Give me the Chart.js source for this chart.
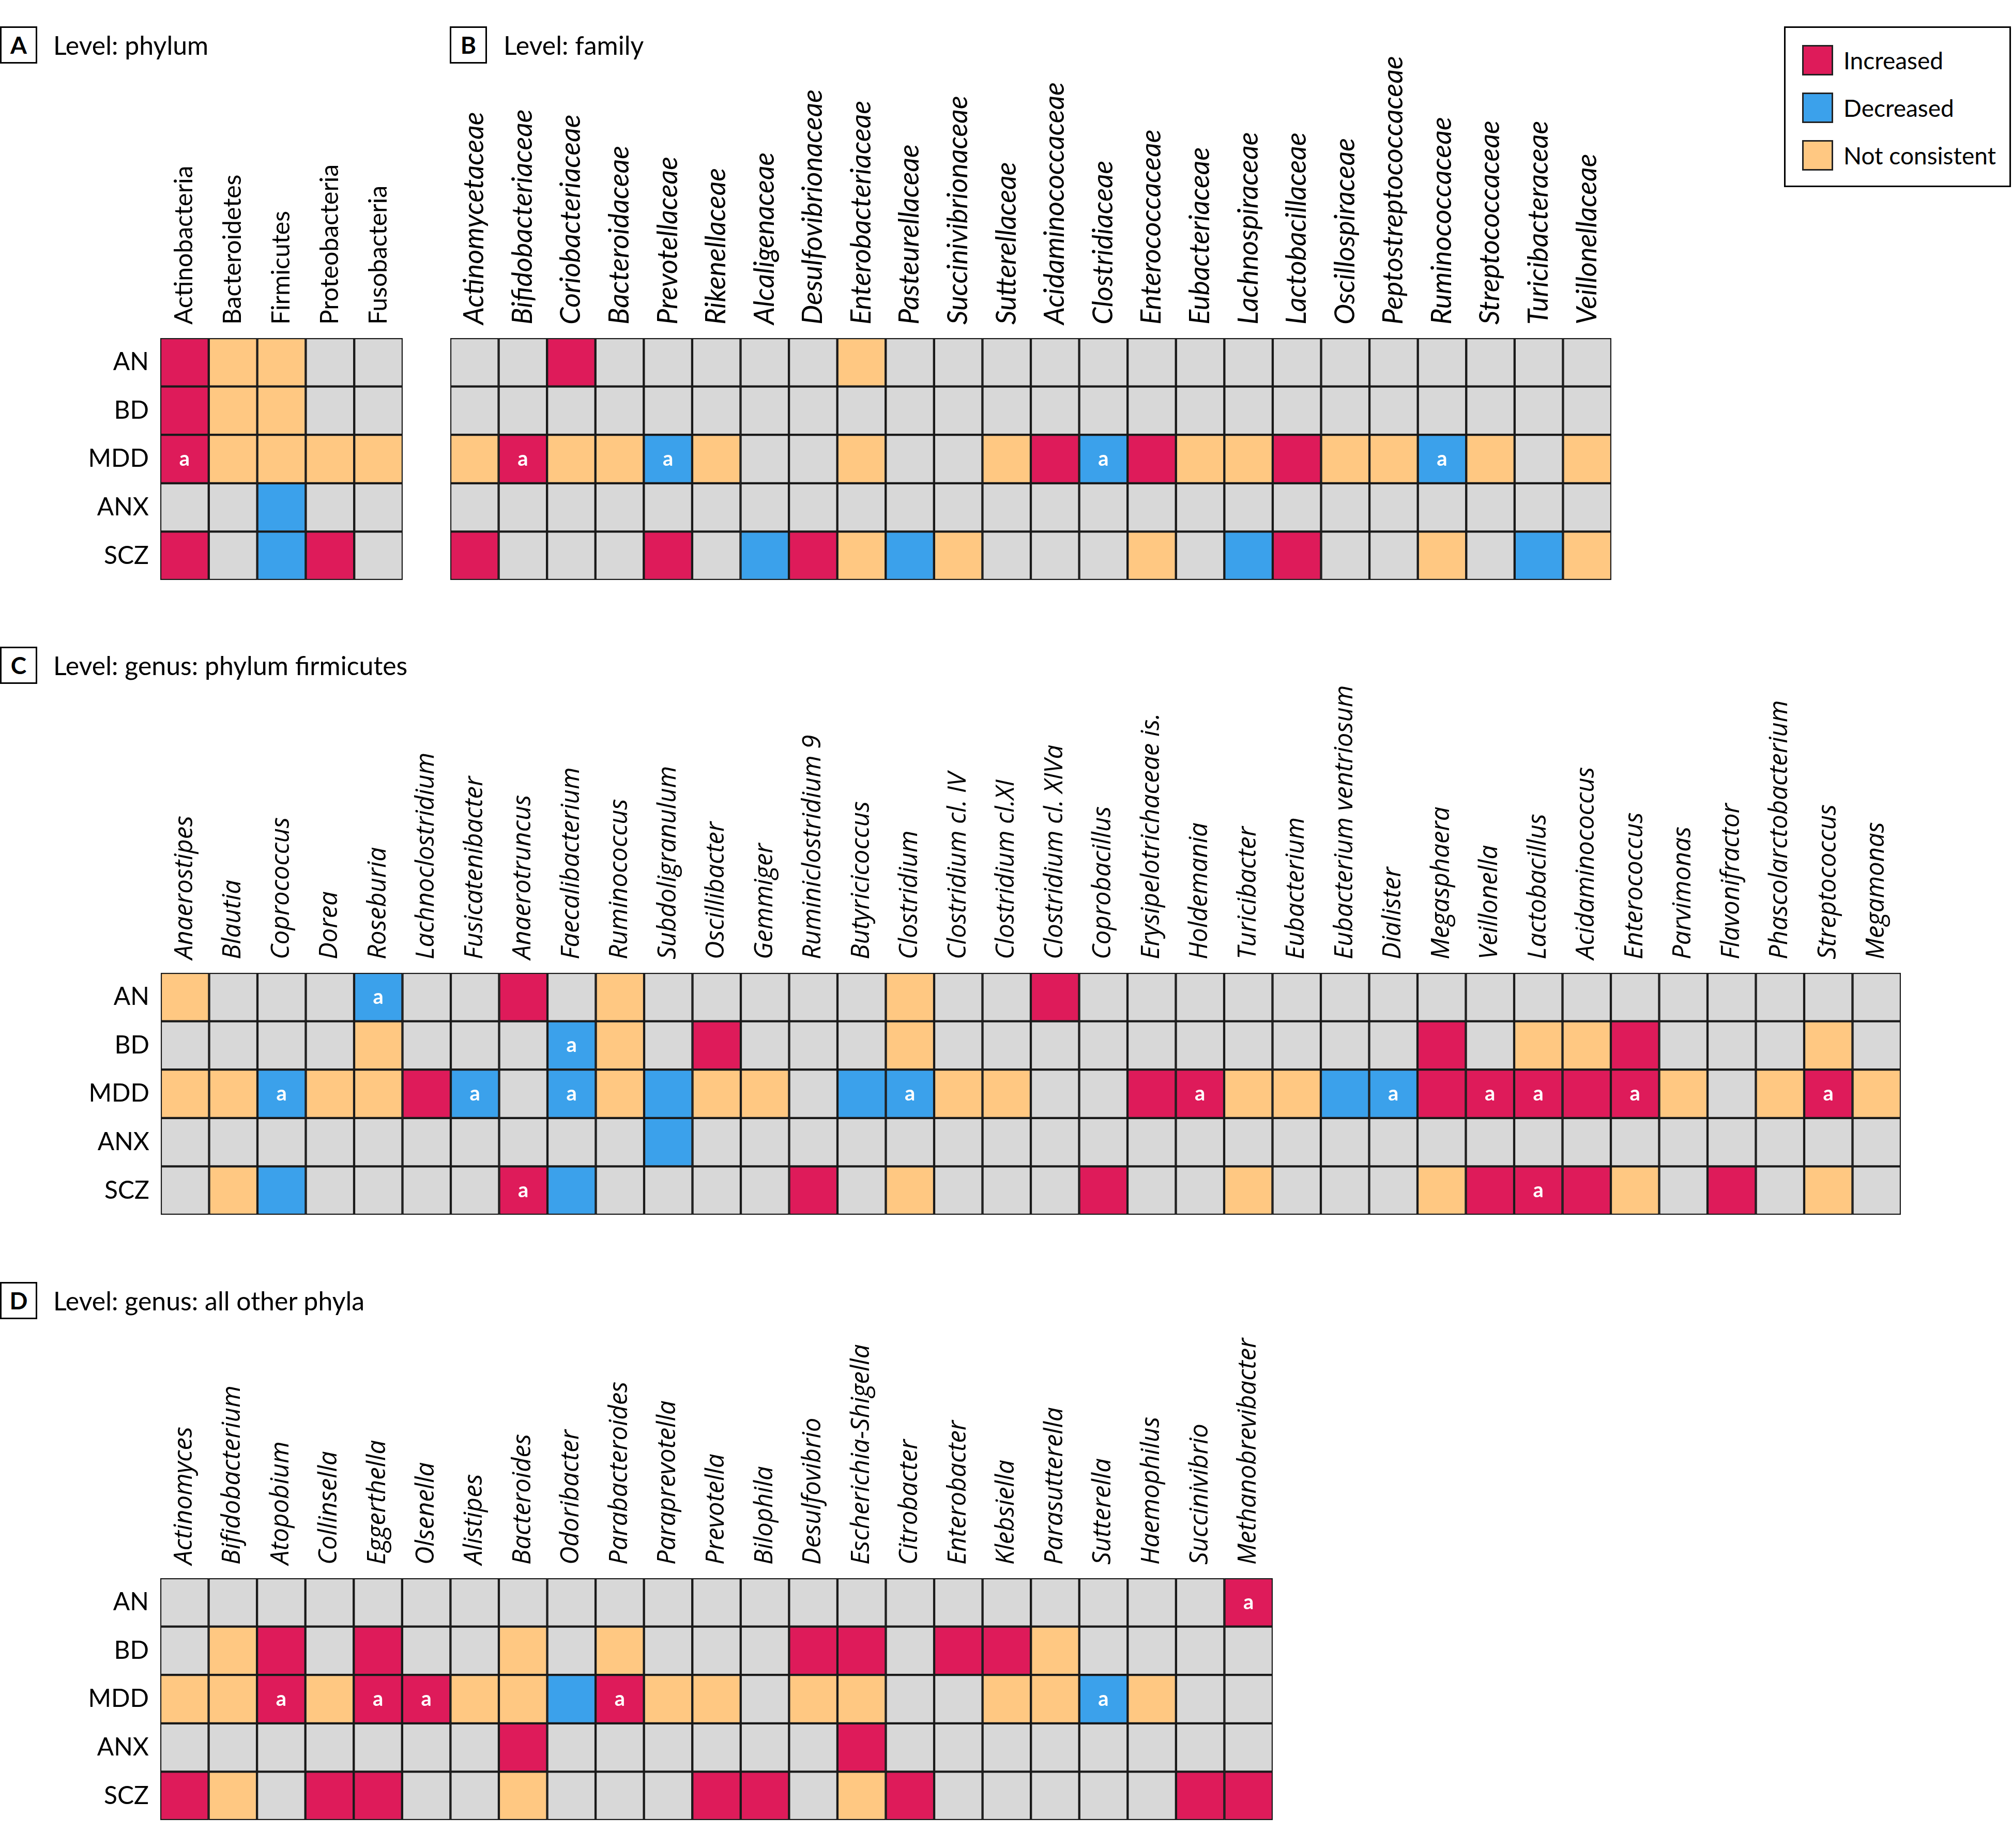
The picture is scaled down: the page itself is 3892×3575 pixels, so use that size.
<!DOCTYPE html>
<html>
<head>
<meta charset="utf-8">
<script src="https://cdn.jsdelivr.net/npm/chart.js@4.4.1/dist/chart.umd.min.js"></script>
<style>
  body { margin: 0; background: #fff; width: 3892px; height: 3575px; position: relative; font-family: Lato, sans-serif; color: #000; }
  canvas { position: absolute; }
  .tag { position: absolute; left: 0; width: 66px; height: 66px; border: 3px solid #000; font: bold 46px Lato, sans-serif; text-align: center; line-height: 66px; }
  .head { position: absolute; font: 50px Lato, sans-serif; line-height: 72px; white-space: nowrap; }
  #legend { position: absolute; left: 3451px; top: 51px; width: 433px; height: 305px; border: 3px solid #000; }
  .sw { position: absolute; left: 32px; width: 54px; height: 53px; border: 3px solid #222; }
  .lt { position: absolute; left: 112px; font: 46px Lato, sans-serif; line-height: 59px; white-space: nowrap; }
</style>
</head>
<body>
<div class="tag" style="top:51px">A</div>
<div class="head" style="left:103px;top:51px">Level: phylum</div>
<div class="tag" style="left:870px;top:51px">B</div>
<div class="head" style="left:974px;top:51px">Level: family</div>
<div class="tag" style="top:1251px">C</div>
<div class="head" style="left:103px;top:1251px">Level: genus: phylum firmicutes</div>
<div class="tag" style="top:2480px">D</div>
<div class="head" style="left:103px;top:2480px">Level: genus: all other phyla</div>

<div id="legend">
  <div class="sw" style="top:33px;background:#de1b5a"></div><div class="lt" style="top:33px">Increased</div>
  <div class="sw" style="top:125px;background:#3ba1eb"></div><div class="lt" style="top:125px">Decreased</div>
  <div class="sw" style="top:217px;background:#ffc882"></div><div class="lt" style="top:217px">Not consistent</div>
</div>

<canvas id="chartA" width="779" height="1022" style="left:0px;top:100px"></canvas>
<canvas id="chartB" width="2246" height="1032" style="left:871px;top:90px"></canvas>
<canvas id="chartC" width="3677" height="1070" style="left:0px;top:1280px"></canvas>
<canvas id="chartD" width="2462" height="966" style="left:0px;top:2555px"></canvas>

<script>
// rows of every panel
const rowLabels = ["AN", "BD", "MDD", "ANX", "SCZ"];

// I = increased, D = decreased, N = not consistent, - = no data; trailing "a" = footnote a
const phylumLabels = ["Actinobacteria", "Bacteroidetes", "Firmicutes", "Proteobacteria", "Fusobacteria"];
const phylumStatus = [
  ["I", "N", "N", "-", "-"],
  ["I", "N", "N", "-", "-"],
  ["Ia", "N", "N", "N", "N"],
  ["-", "-", "D", "-", "-"],
  ["I", "-", "D", "I", "-"]
];

const familyLabels = ["Actinomycetaceae", "Bifidobacteriaceae", "Coriobacteriaceae", "Bacteroidaceae",
  "Prevotellaceae", "Rikenellaceae", "Alcaligenaceae", "Desulfovibrionaceae", "Enterobacteriaceae",
  "Pasteurellaceae", "Succinivibrionaceae", "Sutterellaceae", "Acidaminococcaceae", "Clostridiaceae",
  "Enterococcaceae", "Eubacteriaceae", "Lachnospiraceae", "Lactobacillaceae", "Oscillospiraceae",
  "Peptostreptococcaceae", "Ruminococcaceae", "Streptococcaceae", "Turicibacteraceae", "Veillonellaceae"];
const familyStatus = [
  ["-", "-", "I", "-", "-", "-", "-", "-", "N", "-", "-", "-", "-", "-", "-", "-", "-", "-", "-", "-", "-", "-", "-", "-"],
  ["-", "-", "-", "-", "-", "-", "-", "-", "-", "-", "-", "-", "-", "-", "-", "-", "-", "-", "-", "-", "-", "-", "-", "-"],
  ["N", "Ia", "N", "N", "Da", "N", "-", "-", "N", "-", "-", "N", "I", "Da", "I", "N", "N", "I", "N", "N", "Da", "N", "-", "N"],
  ["-", "-", "-", "-", "-", "-", "-", "-", "-", "-", "-", "-", "-", "-", "-", "-", "-", "-", "-", "-", "-", "-", "-", "-"],
  ["I", "-", "-", "-", "I", "-", "D", "I", "N", "D", "N", "-", "-", "-", "N", "-", "D", "I", "-", "-", "N", "-", "D", "N"]
];

const firmicutesLabels = ["Anaerostipes", "Blautia", "Coprococcus", "Dorea", "Roseburia", "Lachnoclostridium",
  "Fusicatenibacter", "Anaerotruncus", "Faecalibacterium", "Ruminococcus", "Subdoligranulum", "Oscillibacter",
  "Gemmiger", "Ruminiclostridium 9", "Butyricicoccus", "Clostridium", "Clostridium cl. IV", "Clostridium cl.XI",
  "Clostridium cl. XIVa", "Coprobacillus", "Erysipelotrichaceae is.", "Holdemania", "Turicibacter", "Eubacterium",
  "Eubacterium ventriosum", "Dialister", "Megasphaera", "Veillonella", "Lactobacillus", "Acidaminococcus",
  "Enterococcus", "Parvimonas", "Flavonifractor", "Phascolarctobacterium", "Streptococcus", "Megamonas"];
const firmicutesStatus = [
  ["N", "-", "-", "-", "Da", "-", "-", "I", "-", "N", "-", "-", "-", "-", "-", "N", "-", "-", "I", "-", "-", "-", "-", "-", "-", "-", "-", "-", "-", "-", "-", "-", "-", "-", "-", "-"],
  ["-", "-", "-", "-", "N", "-", "-", "-", "Da", "N", "-", "I", "-", "-", "-", "N", "-", "-", "-", "-", "-", "-", "-", "-", "-", "-", "I", "-", "N", "N", "I", "-", "-", "-", "N", "-"],
  ["N", "N", "Da", "N", "N", "I", "Da", "-", "Da", "N", "D", "N", "N", "-", "D", "Da", "N", "N", "-", "-", "I", "Ia", "N", "N", "D", "Da", "I", "Ia", "Ia", "I", "Ia", "N", "-", "N", "Ia", "N"],
  ["-", "-", "-", "-", "-", "-", "-", "-", "-", "-", "D", "-", "-", "-", "-", "-", "-", "-", "-", "-", "-", "-", "-", "-", "-", "-", "-", "-", "-", "-", "-", "-", "-", "-", "-", "-"],
  ["-", "N", "D", "-", "-", "-", "-", "Ia", "D", "-", "-", "-", "-", "I", "-", "N", "-", "-", "-", "I", "-", "-", "N", "-", "-", "-", "N", "I", "Ia", "I", "N", "-", "I", "-", "N", "-"]
];

const otherLabels = ["Actinomyces", "Bifidobacterium", "Atopobium", "Collinsella", "Eggerthella", "Olsenella",
  "Alistipes", "Bacteroides", "Odoribacter", "Parabacteroides", "Paraprevotella", "Prevotella", "Bilophila",
  "Desulfovibrio", "Escherichia-Shigella", "Citrobacter", "Enterobacter", "Klebsiella", "Parasutterella",
  "Sutterella", "Haemophilus", "Succinivibrio", "Methanobrevibacter"];
const otherStatus = [
  ["-", "-", "-", "-", "-", "-", "-", "-", "-", "-", "-", "-", "-", "-", "-", "-", "-", "-", "-", "-", "-", "-", "Ia"],
  ["-", "N", "I", "-", "I", "-", "-", "N", "-", "N", "-", "-", "-", "I", "I", "-", "I", "I", "N", "-", "-", "-", "-"],
  ["N", "N", "Ia", "N", "Ia", "Ia", "N", "N", "D", "Ia", "N", "N", "-", "N", "N", "-", "-", "N", "N", "Da", "N", "-", "-"],
  ["-", "-", "-", "-", "-", "-", "-", "I", "-", "-", "-", "-", "-", "-", "I", "-", "-", "-", "-", "-", "-", "-", "-"],
  ["I", "N", "-", "I", "I", "-", "-", "N", "-", "-", "-", "I", "I", "-", "N", "I", "-", "-", "-", "-", "-", "I", "I"]
];

const statusColor = { "-": "#d8d8d8", I: "#de1b5a", D: "#3ba1eb", N: "#ffc882" };

// white "a" inside the flagged cells
const markPlugin = {
  id: "marks",
  afterDatasetsDraw(chart) {
    const ctx = chart.ctx;
    ctx.save();
    ctx.fillStyle = "#fff";
    ctx.font = "bold 40px Lato";
    ctx.textAlign = "center";
    ctx.textBaseline = "middle";
    chart.data.datasets.forEach((ds, di) => {
      const meta = chart.getDatasetMeta(di);
      ds.marks.forEach((m, j) => {
        if (!m) return;
        const el = meta.data[j];
        ctx.fillText("a", el.x, (el.y + el.base) / 2);
      });
    });
    ctx.restore();
  }
};

function makeChart(id, cats, status, axisH, rowW, font) {
  const datasets = rowLabels.map((r, ri) => ({
    label: r,
    data: cats.map(() => [ri, ri + 1]),
    backgroundColor: status[ri].map(s => statusColor[s[0]]),
    borderColor: "#1a1a1a",
    borderWidth: 2.5,
    borderSkipped: false,
    grouped: false,
    barPercentage: 1,
    categoryPercentage: 1,
    marks: status[ri].map(s => s.endsWith("a"))
  }));
  return new Chart(id, {
    type: "bar",
    data: { labels: cats, datasets: datasets },
    plugins: [markPlugin],
    options: {
      responsive: false,
      animation: false,
      layout: { padding: 0 },
      plugins: { legend: { display: false }, tooltip: { enabled: false } },
      scales: {
        x: {
          position: "top",
          grid: { display: false, drawTicks: false },
          border: { display: false },
          ticks: {
            autoSkip: false, minRotation: 90, maxRotation: 90, padding: 26,
            labelOffset: font.size * 1.2, color: "#000", font: font
          },
          afterFit: s => { s.height = axisH; s.paddingLeft = 0; s.paddingRight = 0; }
        },
        y: {
          min: 0,
          max: 5,
          reverse: true,
          display: rowW > 0,
          grid: { display: false, drawTicks: false },
          border: { display: false },
          afterBuildTicks: s => { s.ticks = rowLabels.map((r, i) => ({ value: i + 0.5 })); },
          ticks: { padding: 22, color: "#000", font: { family: "Lato", size: 48 }, callback: (v, i) => rowLabels[i] },
          afterFit: s => { s.width = rowW; s.paddingTop = 0; s.paddingBottom = 0; }
        }
      }
    }
  });
}

makeChart("chartA", phylumLabels, phylumStatus, 554, 310, { family: "Lato", size: 48 });
makeChart("chartB", familyLabels, familyStatus, 564, 0, { family: "Lato", size: 54, style: "italic" });
makeChart("chartC", firmicutesLabels, firmicutesStatus, 602, 311, { family: "Open Sans", size: 49, style: "italic" });
makeChart("chartD", otherLabels, otherStatus, 498, 310, { family: "Open Sans", size: 49, style: "italic" });
</script>
</body>
</html>
